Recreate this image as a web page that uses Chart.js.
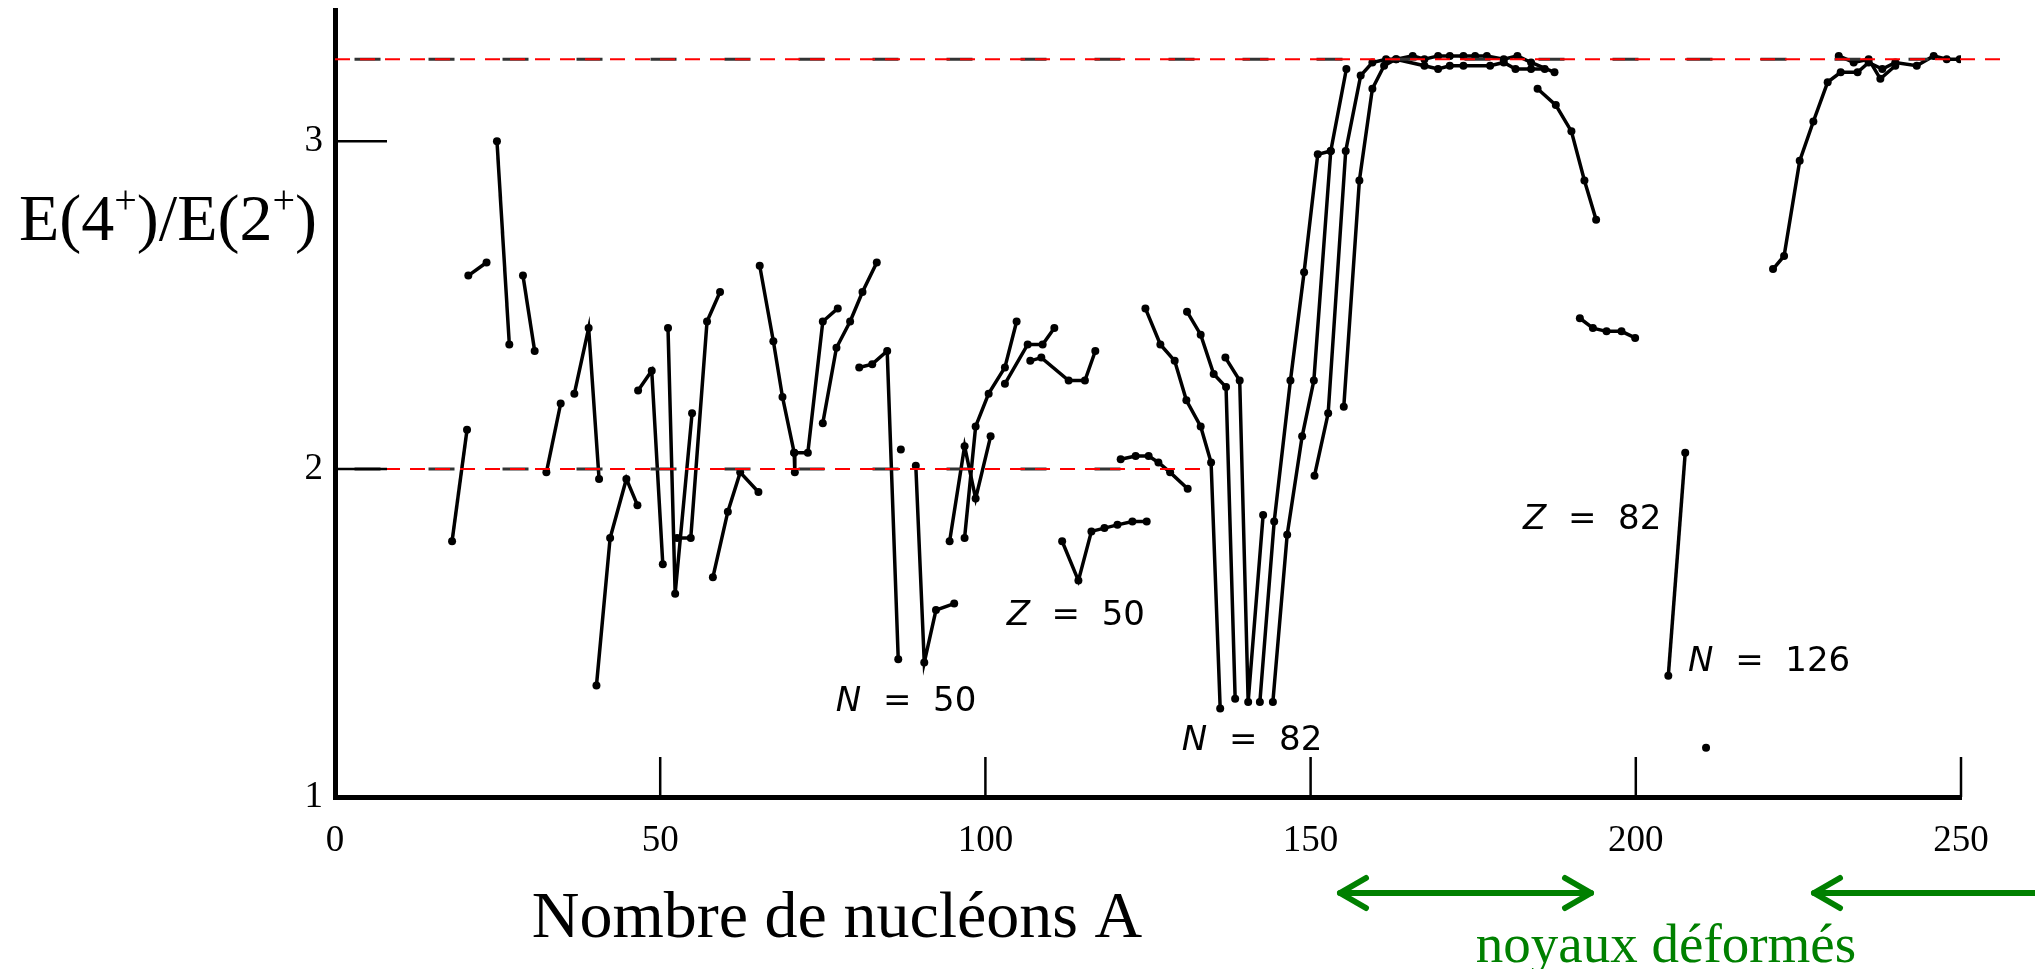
<!DOCTYPE html>
<html>
<head>
<meta charset="utf-8">
<script src="https://cdn.jsdelivr.net/npm/chart.js@4.4.1/dist/chart.umd.min.js"></script>
<style>
  html, body { margin: 0; padding: 0; background: #fff; }
  #wrap { width: 2035px; height: 969px; position: relative; }
</style>
</head>
<body>
<div id="wrap"><canvas id="chart"></canvas></div>
<script>
// [A, E(4+)/E(2+)] pairs, one array per chain of points
const s01 = [[18.0, 1.78], [20.3, 2.12]];
const s02 = [[20.5, 2.59], [23.3, 2.63]];
const s03 = [[24.9, 3.00], [26.8, 2.38]];
const s04 = [[28.9, 2.59], [30.7, 2.36]];
const s05 = [[32.5, 1.99], [34.7, 2.20]];
const s06 = [[36.8, 2.23], [39.0, 2.43], [40.6, 1.97]];
const s07 = [[40.2, 1.34], [42.3, 1.79], [44.8, 1.97], [46.5, 1.89]];
const s08 = [[46.6, 2.24], [48.7, 2.30], [50.4, 1.71]];
const s09 = [[51.2, 2.43], [52.3, 1.62], [54.9, 2.17]];
const s10 = [[52.6, 1.79], [54.7, 1.79], [57.2, 2.45], [59.2, 2.54]];
const s11 = [[58.1, 1.67], [60.4, 1.87], [62.3, 1.99], [65.1, 1.93]];
const s12 = [[65.3, 2.62], [67.4, 2.39], [68.8, 2.22], [70.6, 2.05], [70.7, 1.99]];
const s12b = [[70.6, 2.05], [72.7, 2.05], [75.0, 2.45], [77.3, 2.49]];
const s13 = [[75.0, 2.14], [77.1, 2.37], [79.2, 2.45], [81.1, 2.54], [83.3, 2.63]];
const s14 = [[80.6, 2.31], [82.6, 2.32], [84.9, 2.36], [86.6, 1.42]];
const s15 = [[87.0, 2.06]];
const s16 = [[89.3, 2.01], [90.6, 1.41], [92.4, 1.57], [95.2, 1.59]];
const s17 = [[94.5, 1.78], [96.8, 2.07], [98.5, 1.91], [100.8, 2.10]];
const s18 = [[96.8, 1.79], [98.5, 2.13], [100.5, 2.23], [103.0, 2.31], [104.8, 2.45]];
const s19 = [[103.0, 2.26], [106.5, 2.38], [108.8, 2.38], [110.6, 2.43]];
const s20 = [[106.9, 2.33], [108.6, 2.34], [112.8, 2.27], [115.3, 2.27], [116.9, 2.36]];
const s21 = [[111.8, 1.78], [114.3, 1.66], [116.3, 1.81], [118.3, 1.82], [120.3, 1.83], [122.6, 1.84], [124.8, 1.84]];
const s22 = [[120.8, 2.03], [123.1, 2.04], [125.1, 2.04], [126.6, 2.02], [128.4, 1.99], [131.1, 1.94]];
const s23 = [[124.6, 2.49], [126.9, 2.38], [129.1, 2.33], [130.9, 2.21], [133.1, 2.13], [134.7, 2.02], [136.1, 1.27]];
const s24 = [[131.0, 2.48], [133.1, 2.41], [135.1, 2.29], [137.0, 2.25], [138.4, 1.30]];
const s25 = [[136.9, 2.34], [139.1, 2.27], [140.4, 1.29], [142.7, 1.86]];
const s26 = [[142.2, 1.29], [144.4, 1.84], [146.9, 2.27], [149.0, 2.60], [151.1, 2.96], [153.1, 2.97], [155.5, 3.22]];
const s27 = [[144.2, 1.29], [146.4, 1.80], [148.7, 2.10], [150.5, 2.27], [153.1, 2.97]];
const s28 = [[150.6, 1.98], [152.7, 2.17], [155.4, 2.97], [157.7, 3.20], [159.5, 3.24], [161.6, 3.25], [163.2, 3.25],
  [165.7, 3.26], [167.5, 3.25], [169.6, 3.26], [171.4, 3.26], [173.5, 3.26], [175.3, 3.26], [177.1, 3.26],
  [179.7, 3.25], [181.8, 3.26], [183.9, 3.24], [187.5, 3.21]];
const s29 = [[155.1, 2.19], [157.5, 2.88], [159.5, 3.16], [161.3, 3.23], [163.1, 3.25], [167.5, 3.23], [169.6, 3.22],
  [171.4, 3.23], [173.5, 3.23], [177.6, 3.23], [179.7, 3.24], [181.5, 3.22], [183.9, 3.22], [186.0, 3.22]];
const s30 = [[184.9, 3.16], [187.7, 3.11], [190.1, 3.03], [192.1, 2.88], [193.9, 2.76]];
const s31 = [[191.4, 2.46], [193.4, 2.43], [195.5, 2.42], [197.8, 2.42], [199.9, 2.40]];
const s32 = [[205.0, 1.37], [207.6, 2.05]];
const s33 = [[210.8, 1.15]];
const s34 = [[221.1, 2.61], [222.8, 2.65], [225.2, 2.94], [227.3, 3.06], [229.5, 3.18], [231.5, 3.21], [234.1, 3.21],
  [235.8, 3.24], [237.9, 3.22], [239.9, 3.24], [243.2, 3.23], [245.8, 3.26], [247.8, 3.25], [249.8, 3.25]];
const s35 = [[231.2, 3.26], [233.5, 3.24], [235.8, 3.25], [237.6, 3.19], [239.9, 3.23]];

const chains = [s01, s02, s03, s04, s05, s06, s07, s08, s09, s10, s11, s12, s12b, s13, s14, s15, s16, s17,
  s18, s19, s20, s21, s22, s23, s24, s25, s26, s27, s28, s29, s30, s31, s32, s33, s34, s35];

const xTicks = [0, 50, 100, 150, 200, 250];
const yTicks = [1, 2, 3];

// red guides (overlay) and the faint black dashes of the original print under them
const refLevels = [2, 3.25];
const refEnds = [133, 256];
const oldDashEnds = [125, 245];

// text notes in data units
const notes = [
  { sym: 'Z', rest: '  =  50', a: 113.9, r: 1.552 },
  { sym: 'N', rest: '  =  50', a: 87.8, r: 1.29 },
  { sym: 'N', rest: '  =  82', a: 141.0, r: 1.171 },
  { sym: 'Z', rest: '  =  82', a: 193.3, r: 1.845 },
  { sym: 'N', rest: '  =  126', a: 220.5, r: 1.412 }
];

const serif = '"Liberation Serif", "DejaVu Serif", serif';
const green = 'rgb(0,128,0)';

const datasets = chains.map(c => ({
  data: c.map(p => ({ x: p[0], y: p[1] })),
  showLine: true,
  borderColor: '#000',
  borderWidth: 3.5,
  pointRadius: 4,
  pointBackgroundColor: '#000',
  pointBorderWidth: 0,
  order: 2
}));

refLevels.forEach((lv, i) => {
  datasets.push({
    data: [{ x: 3, y: lv }, { x: oldDashEnds[i], y: lv }],
    showLine: true, borderColor: '#333', borderWidth: 3, borderDash: [26, 48],
    pointRadius: 0, order: 1
  });
  datasets.push({
    data: [{ x: 0, y: lv }, { x: refEnds[i], y: lv }],
    showLine: true, borderColor: '#ff0000', borderWidth: 2, borderDash: [15, 10],
    pointRadius: 0, clip: false, order: 0
  });
});

function line(ctx, x1, y1, x2, y2) {
  ctx.beginPath();
  ctx.moveTo(x1, y1);
  ctx.lineTo(x2, y2);
  ctx.stroke();
}

function arrowHead(ctx, tipX, y, dir) {
  // open chevron, dir = -1 points left, 1 points right
  ctx.beginPath();
  ctx.moveTo(tipX - dir * 26, y - 15);
  ctx.lineTo(tipX, y);
  ctx.lineTo(tipX - dir * 26, y + 15);
  ctx.stroke();
}

const overlay = {
  id: 'overlay',
  afterDraw(chart) {
    const ctx = chart.ctx;
    const xs = chart.scales.x, ys = chart.scales.y;
    const area = chart.chartArea;
    ctx.save();

    // inward tick marks
    ctx.strokeStyle = '#000';
    ctx.lineWidth = 2.5;
    xTicks.slice(1).forEach(v => {
      const px = xs.getPixelForValue(v);
      line(ctx, px, area.bottom, px, area.bottom - 40);
    });
    yTicks.slice(1).forEach(v => {
      const py = ys.getPixelForValue(v);
      line(ctx, area.left, py, area.left + 52, py);
    });

    // y title with superscripts
    ctx.fillStyle = '#000';
    ctx.textBaseline = 'alphabetic';
    ctx.textAlign = 'left';
    const parts = [['E(4', false], ['+', true], [')/E(2', false], ['+', true], [')', false]];
    let x = 19;
    const base = 240;
    parts.forEach(([t, sup]) => {
      ctx.font = (sup ? '40px ' : '66px ') + serif;
      ctx.fillText(t, x, sup ? base - 27 : base);
      x += ctx.measureText(t).width;
    });

    // x title
    ctx.font = '66px ' + serif;
    ctx.textAlign = 'center';
    ctx.fillText('Nombre de nucléons A', 837, 937);

    // deformed nuclei arrows and label
    ctx.strokeStyle = green;
    ctx.fillStyle = green;
    ctx.lineWidth = 6;
    ctx.lineCap = 'round';
    ctx.lineJoin = 'round';
    line(ctx, 1340, 893, 1591, 893);
    arrowHead(ctx, 1340, 893, -1);
    arrowHead(ctx, 1591, 893, 1);
    line(ctx, 1814, 893, 2040, 893);
    arrowHead(ctx, 1814, 893, -1);
    ctx.font = '55px ' + serif;
    ctx.fillText('noyaux déformés', 1666, 962);

    // shell closure notes
    ctx.fillStyle = '#000';
    ctx.textBaseline = 'middle';
    ctx.textAlign = 'left';
    notes.forEach(n => {
      const cx = xs.getPixelForValue(n.a);
      const cy = ys.getPixelForValue(n.r);
      ctx.font = 'italic 34px "DejaVu Sans", sans-serif';
      const w1 = ctx.measureText(n.sym).width;
      ctx.font = '34px "DejaVu Sans", sans-serif';
      const w2 = ctx.measureText(n.rest).width;
      const left = cx - (w1 + w2) / 2;
      ctx.font = 'italic 34px "DejaVu Sans", sans-serif';
      ctx.fillText(n.sym, left, cy);
      ctx.font = '34px "DejaVu Sans", sans-serif';
      ctx.fillText(n.rest, left + w1, cy);
    });

    ctx.restore();
  }
};

new Chart(document.getElementById('chart'), {
  type: 'scatter',
  data: { datasets: datasets },
  options: {
    responsive: true,
    maintainAspectRatio: false,
    animation: false,
    layout: { padding: { top: 10, right: 74, left: 0, bottom: 0 } },
    plugins: { legend: { display: false }, tooltip: { enabled: false } },
    scales: {
      x: {
        type: 'linear',
        position: 'bottom',
        min: 0,
        max: 250,
        afterFit: s => { s.height = 172; s.paddingLeft = 0; s.paddingRight = 0; },
        afterBuildTicks: s => { s.ticks = xTicks.map(v => ({ value: v })); },
        grid: { drawOnChartArea: false, drawTicks: false },
        border: { display: true, color: '#000', width: 5 },
        ticks: { color: '#000', padding: 22, font: { family: serif, size: 37 } }
      },
      y: {
        type: 'linear',
        min: 1,
        max: 3.4,
        afterFit: s => { s.width = 335; s.paddingTop = 0; s.paddingBottom = 0; },
        afterBuildTicks: s => { s.ticks = yTicks.map(v => ({ value: v })); },
        grid: { drawOnChartArea: false, drawTicks: false },
        border: { display: true, color: '#000', width: 5 },
        ticks: { color: '#000', padding: 12, font: { family: serif, size: 37 } }
      }
    }
  },
  plugins: [overlay]
});
</script>
</body>
</html>
